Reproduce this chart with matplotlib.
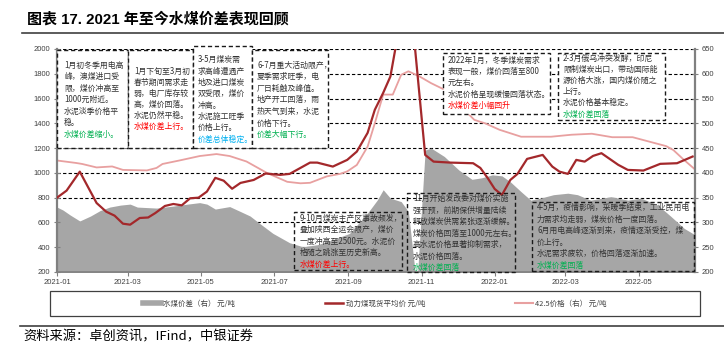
import matplotlib
matplotlib.use('Agg')
import matplotlib.pyplot as plt
import matplotlib.dates as mdates
import pandas as pd
from matplotlib.patches import Rectangle
from matplotlib.lines import Line2D

plt.rcParams['font.family'] = ['Noto Sans CJK SC', 'DejaVu Sans']
plt.rcParams['axes.unicode_minus'] = False

# ---------------- data ----------------
coal_dates = ['2021-01-01', '2021-01-09', '2021-01-20', '2021-02-03', '2021-02-11', '2021-02-18',
              '2021-02-25', '2021-03-03', '2021-03-11', '2021-03-18', '2021-03-24', '2021-04-01',
              '2021-04-08', '2021-04-15', '2021-04-22', '2021-04-29', '2021-05-06', '2021-05-13',
              '2021-05-20', '2021-05-27', '2021-06-03', '2021-06-14', '2021-06-24', '2021-07-06',
              '2021-07-14', '2021-07-31', '2021-08-06', '2021-08-19', '2021-08-31', '2021-09-08',
              '2021-09-17', '2021-09-23', '2021-09-30', '2021-10-06', '2021-10-10', '2021-10-21',
              '2021-11-04', '2021-11-11', '2021-11-25', '2021-12-14', '2021-12-20', '2021-12-26',
              '2022-01-01', '2022-01-07', '2022-01-14', '2022-01-20', '2022-01-28', '2022-02-10',
              '2022-02-18', '2022-02-24', '2022-03-03', '2022-03-10', '2022-03-17', '2022-03-24',
              '2022-03-31', '2022-04-14', '2022-04-22', '2022-05-05', '2022-05-19', '2022-06-02',
              '2022-06-15']
coal_values = [800, 857, 1010, 757, 687, 655,
               590, 582, 636, 640, 676, 733,
               749, 738, 795, 800, 849, 960,
               937, 872, 919, 943, 995, 984,
               992, 1083, 1083, 1051, 1105, 1172,
               1323, 1509, 1646, 1778, 1994, 2570,
               1145, 1091, 1083, 1078, 1040, 960,
               870, 822, 943, 992, 1113, 1145,
               1051, 1010, 992, 1105, 1091, 1137,
               1159, 1065, 1024, 1019, 1073, 1078,
               1132]

cement_dates = ['2021-01-01', '2021-01-17', '2021-01-22', '2021-02-03', '2021-02-16', '2021-02-25',
                '2021-03-17', '2021-03-25', '2021-03-30', '2021-04-13', '2021-04-30', '2021-05-14',
                '2021-05-25', '2021-06-08', '2021-06-25', '2021-07-12', '2021-07-23', '2021-07-31',
                '2021-08-14', '2021-08-25', '2021-08-31', '2021-09-08', '2021-09-17', '2021-09-23',
                '2021-09-30', '2021-10-08', '2021-10-15', '2021-10-21', '2021-10-30', '2021-11-09',
                '2021-11-20', '2021-12-10', '2021-12-15', '2021-12-24', '2022-01-05', '2022-01-23',
                '2022-02-17', '2022-03-06', '2022-03-23', '2022-04-09', '2022-04-26', '2022-05-10',
                '2022-05-24', '2022-05-30', '2022-06-07', '2022-06-17']
cement_values = [425, 420, 418, 411, 413, 406,
                 405, 410, 418, 425, 434, 438,
                 434, 423, 400, 382, 379, 380,
                 393, 398, 403, 416, 453, 500,
                 558, 558, 598, 605, 595, 581,
                 568, 519, 507, 500, 487, 473,
                 473, 477, 479, 472, 472, 463,
                 454, 446, 428, 407]

spread_dates = ['2021-01-01', '2021-01-06', '2021-01-12', '2021-01-20', '2021-01-29', '2021-02-06',
                '2021-02-14', '2021-02-23', '2021-03-03', '2021-03-09', '2021-03-25', '2021-04-08',
                '2021-04-20', '2021-04-30', '2021-05-06', '2021-05-13', '2021-05-25', '2021-06-03',
                '2021-06-11', '2021-06-19', '2021-06-30', '2021-07-14', '2021-07-25', '2021-08-06',
                '2021-08-19', '2021-09-02', '2021-09-17', '2021-09-25', '2021-09-30', '2021-10-06',
                '2021-10-15', '2021-10-21', '2021-10-28', '2021-11-04', '2021-11-09', '2021-11-20',
                '2021-12-02', '2021-12-13', '2021-12-21', '2021-12-30', '2022-01-07', '2022-01-14',
                '2022-01-23', '2022-01-31', '2022-02-08', '2022-02-19', '2022-03-03', '2022-03-11',
                '2022-03-22', '2022-04-08', '2022-04-22', '2022-05-03', '2022-05-17', '2022-05-28',
                '2022-06-08', '2022-06-17']
spread_values = [331, 325, 315, 303, 313, 324,
                 331, 335, 337, 331, 329, 333,
                 337, 340, 337, 327, 332, 322,
                 313, 298, 278, 259, 251, 255,
                 265, 278, 319, 345, 366, 349,
                 342, 322, 170, 446, 450, 433,
                 406, 387, 390, 396, 394, 382,
                 362, 345, 349, 356, 359, 356,
                 345, 352, 345, 349, 335, 312,
                 288, 275]

left_ticks = list(range(200, 2001, 200))
right_ticks = list(range(200, 651, 50))
x_tick_dates = ['2021-01-01', '2021-03-01', '2021-05-01', '2021-07-01', '2021-09-01',
                '2021-11-01', '2022-01-01', '2022-03-01', '2022-05-01']
x_start, x_end = '2021-01-01', '2022-06-17'

series_labels = ['水煤价差（右） 元/吨', '动力煤现货平均价 元/吨', '42.5价格（右） 元/吨']
title_text = '图表 17. 2021 年至今水煤价差表现回顾'
source_text = '资料来源：卓创资讯，IFind，中银证券'

GREEN, RED, BLUE = '#00B050', '#FF0000', '#00B0F0'
notes = [
    (["1月初冬季用电高", "峰，澳煤进口受", "限，煤价冲高至", "1000元附近。", "水泥淡季价格平", "稳。"],
     "水煤价差缩小。", GREEN),
    (["1月下旬至3月初", "春节期间需求走", "弱，电厂库存较", "高，煤价回落。", "水泥仍然平稳。"],
     "水煤价差上行。", RED),
    (["3-5月煤炭需", "求高峰遭遇产", "地及进口煤炭", "双受限，煤价", "冲高。", "水泥施工旺季", "价格上行。"],
     "价差总体稳定。", BLUE),
    (["6-7月重大活动限产，", "夏季需求旺季，电", "厂日耗触及峰值。", "地产开工回落，雨", "热天气到来，水泥", "价格下行。"],
     "价差大幅下行。", GREEN),
    (["2022年1月，冬季煤炭需求", "表现一般，煤价回落至800", "元左右。", "水泥价格呈现缓慢回落状态。"],
     "水煤价差小幅回升", RED),
    (["2-3月俄乌冲突发酵，印尼", "限制煤炭出口，带动国际能", "源价格大涨，国内煤价随之", "上行。", "水泥价格基本稳定。"],
     "水煤价差回落", GREEN),
    (["9-10月煤炭主产区事故频发，", "叠加陕西全运会限产，煤价", "一度冲高至2500元。水泥价", "格随之跳涨至历史新高。"],
     "水煤价差上行。", RED),
    (["11月开始发改委对煤价实施", "强干预，前期保供增量陆续", "释放煤炭供需紧张逐渐缓解。", "煤炭价格回落至1000元左右。",
      "高水泥价格显著抑制需求，", "水泥价格回落。"],
     "水煤价差回落", GREEN),
    (["4-5月，疫情影响，采暖季结束，工业民用电", "力需求均走弱，煤炭价格一度回落。",
      "6月用电高峰逐渐到来，疫情逐渐受控，煤", "价上行。", "水泥需求疲软，价格回落逐渐加速。"],
     "水煤价差回落", GREEN),
]

# ---------------- layout (pixels) ----------------
W, H = 724, 344
# rect (x0, y0, x1, y1), text x, first line y, line spacing, white fill
note_layout = [
    ((57, 50, 128, 148), 64, 65.0, 11.5, True),
    ((128, 50, 193, 148), 134, 71.5, 11.0, True),
    ((193, 46, 252, 148), 198, 59.5, 11.4, True),
    ((252, 50, 328, 148), 257, 65.0, 11.6, True),
    ((443, 53, 550, 114), 448, 60.0, 11.3, True),
    ((558, 53, 665, 120), 563, 58.0, 11.2, True),
    ((294, 212, 402, 270), 300, 218.0, 11.5, False),
    ((407, 193, 515, 272), 413, 198.5, 11.5, False),
    ((532, 202, 694, 271), 537, 207.5, 11.5, False),
]

c_gray = '#A6A6A6'
c_coal = '#A3282B'
c_cement = '#E8A0A0'
axis_col = '#808080'
tick_font = ['Liberation Sans Narrow', 'Liberation Sans', 'DejaVu Sans']

fig = plt.figure(figsize=(W / 100, H / 100), dpi=100, facecolor='white')
ax = fig.add_axes([57 / W, 1 - 272 / H, 638 / W, 223 / H])
ax2 = ax.twinx()
ax.set_zorder(2)
ax.patch.set_visible(False)
ax2.set_zorder(1)

cd = pd.to_datetime(coal_dates)
ed = pd.to_datetime(cement_dates)
sd = pd.to_datetime(spread_dates)

ax2.fill_between(sd, 0, spread_values, color=c_gray, lw=0, zorder=1)
ax2.plot(ed, cement_values, color=c_cement, lw=1.3, zorder=2)
ax.plot(cd, coal_values, color=c_coal, lw=1.6, zorder=3)

ax.set_ylim(200, 2000)
ax.set_yticks(left_ticks)
ax2.set_ylim(200, 650)
ax2.set_yticks(right_ticks)
ax.set_xlim(pd.Timestamp(x_start), pd.Timestamp(x_end))
ax.set_xticks(pd.to_datetime(x_tick_dates))
ax.xaxis.set_major_formatter(mdates.DateFormatter('%Y-%m'))

ax2.set_axisbelow(True)
ax2.yaxis.grid(True, color='black', ls=(0, (3, 2)), lw=0.8)

for s in ['top', 'right']:
    ax.spines[s].set_visible(False)
for s in ['top', 'left', 'bottom']:
    ax2.spines[s].set_visible(False)
ax.spines['left'].set_color(axis_col)
ax.spines['left'].set_linewidth(1.6)
ax.spines['bottom'].set_color(axis_col)
ax.spines['bottom'].set_linewidth(1.2)
ax2.spines['right'].set_color(axis_col)
ax2.spines['right'].set_linewidth(1.6)

ax.tick_params(axis='y', direction='inout', length=4, width=0.8, color=axis_col,
               labelsize=5.5, labelcolor='#404040', pad=3)
ax2.tick_params(axis='y', direction='inout', length=4, width=0.8, color=axis_col,
                labelsize=5.5, labelcolor='#404040', pad=3)
ax.tick_params(axis='x', direction='out', length=3, width=0.8, color=axis_col,
               labelsize=5.5, labelcolor='#404040', pad=2)
for lab in ax.get_xticklabels() + ax.get_yticklabels() + ax2.get_yticklabels():
    lab.set_family(tick_font)

# legend
handles = [Line2D([], [], color=c_gray, lw=4),
           Line2D([], [], color=c_coal, lw=1.8),
           Line2D([], [], color=c_cement, lw=1.5)]
leg = fig.legend(handles, series_labels, loc='center', bbox_to_anchor=(375 / W, 1 - 304 / H),
                 ncol=3, frameon=False, prop={'size': 5.4, 'weight': 'light'},
                 handlelength=2.4, handletextpad=0.3, columnspacing=12.0)
for t in leg.get_texts():
    t.set_color('#404040')
fig.add_artist(Rectangle((50 / W, 1 - 316 / H), 650 / W, 25 / H, transform=fig.transFigure,
                         fill=False, edgecolor='#404040', lw=0.9, zorder=5))

# annotation boxes
for (lines, hl, hl_col), (rect, tx, ty, sp, filled) in zip(notes, note_layout):
    x0, y0, x1, y1 = rect
    fig.add_artist(Rectangle((x0 / W, 1 - y1 / H), (x1 - x0) / W, (y1 - y0) / H,
                             transform=fig.transFigure,
                             facecolor='white' if filled else 'none',
                             edgecolor='#1a1a1a', lw=1.0, ls=(0, (3, 2)), zorder=5))
    all_lines = lines + [hl]
    for i, ln in enumerate(all_lines):
        col = hl_col if i == len(all_lines) - 1 else '#333333'
        fig.text(tx / W, 1 - (ty + i * sp) / H, ln, ha='left', va='center', fontsize=5.7,
                 fontweight='light', color=col, zorder=6)

# title, rules, source
fig.text(27 / W, 1 - 19 / H, title_text, ha='left', va='center', fontsize=10.8,
         fontweight='bold', family=['Liberation Sans', 'Noto Sans CJK SC'], color='black')
fig.add_artist(Line2D([22 / W, 1.0], [1 - 33 / H, 1 - 33 / H], transform=fig.transFigure,
                      color='#404040', lw=1.2))
fig.add_artist(Line2D([20 / W, 1.0], [1 - 326 / H, 1 - 326 / H], transform=fig.transFigure,
                      color='#404040', lw=1.2))
fig.text(23 / W, 1 - 337 / H, source_text, ha='left', va='center', fontsize=9.5,
         fontweight='light', color='black', family=['Noto Sans CJK SC', 'Liberation Sans'])

fig.savefig('out.png', dpi=100, facecolor='white')
